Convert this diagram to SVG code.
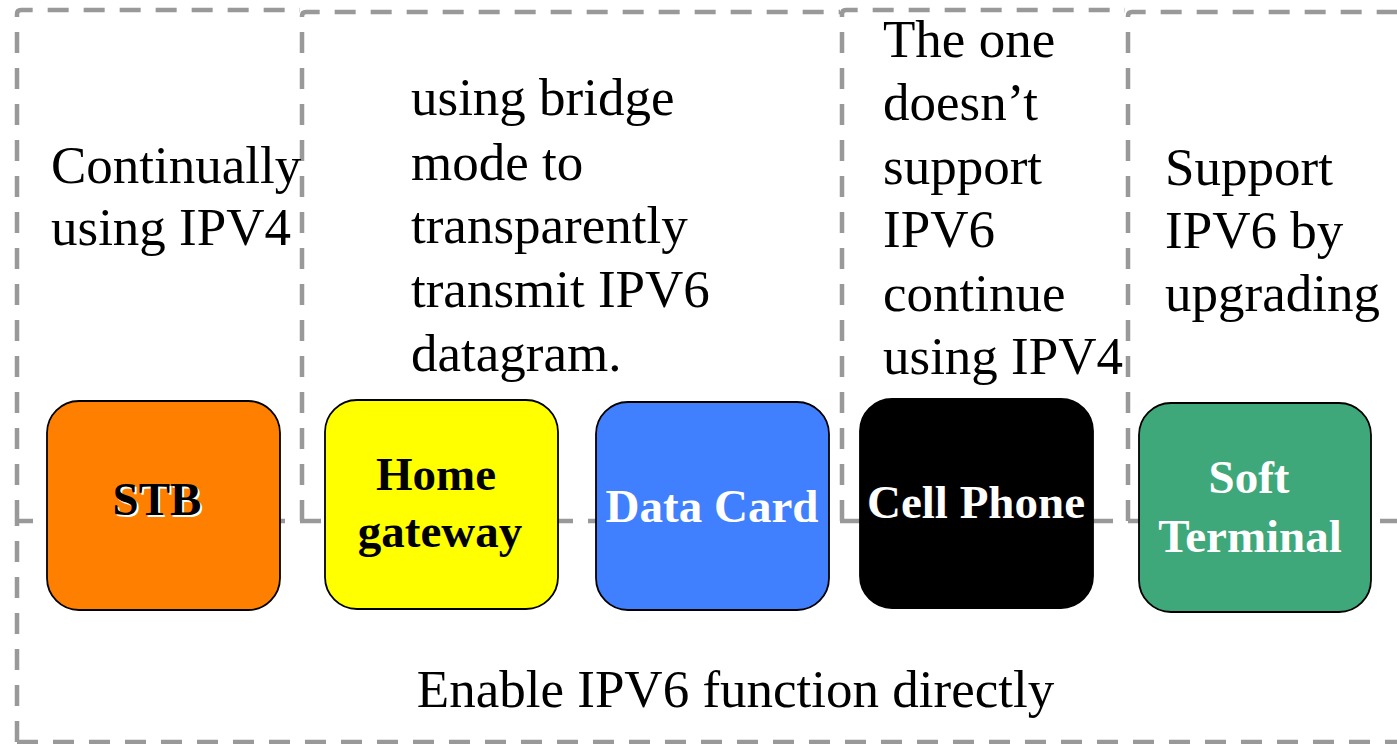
<svg xmlns="http://www.w3.org/2000/svg" width="1397" height="744" viewBox="0 0 1397 744">
<style>
.reg{fill:none;stroke:#999999;stroke-width:4.5;stroke-dasharray:21 15;stroke-linejoin:round}
.note{font-family:"Liberation Serif","Times New Roman",serif;font-size:53px;fill:#000}
.box{stroke:#000;stroke-width:1.8}
.lbl{font-family:"Liberation Serif","Times New Roman",serif;font-size:47px;font-weight:bold;text-anchor:middle}
</style>
<rect width="1397" height="744" fill="#ffffff"/>
<g id="regions">
<path class="reg" d="M17,742 V521 H1420"/>
<path class="reg" d="M17,742 H1420"/>
<path class="reg" d="M17,521 V14 Q17,10 21,10 H300"/>
<path class="reg" d="M302,521 V16 Q302,12 306,12 H840"/>
<path class="reg" d="M842,521 V14 Q842,10 846,10 H1125"/>
<path class="reg" d="M1128,521 V16 Q1128,12 1132,12 H1400"/>
</g>
<g id="connectors"></g>
<g id="notes" class="note">
<text x="51" y="183">Continually</text>
<text x="51" y="245">using IPV4</text>
<text x="411" y="115">using bridge</text>
<text x="411" y="180">mode to</text>
<text x="411" y="243">transparently</text>
<text x="411" y="307">transmit IPV6</text>
<text x="411" y="371">datagram.</text>
<text x="883" y="57">The one</text>
<text x="883" y="120">doesn’t</text>
<text x="883" y="184">support</text>
<text x="883" y="247">IPV6</text>
<text x="883" y="311">continue</text>
<text x="883" y="374">using IPV4</text>
<text x="1165" y="185">Support</text>
<text x="1165" y="248">IPV6 by</text>
<text x="1165" y="311">upgrading</text>
<text x="735.5" y="707" text-anchor="middle">Enable IPV6 function directly</text>
</g>
<g id="stb">
<rect class="box" x="47" y="401" width="233" height="209" rx="32" fill="#FF8000"/>
<text class="lbl" x="159" y="517" fill="#ffffff">STB</text>
<text class="lbl" x="157" y="515" fill="#000000">STB</text>
</g>
<g id="home-gateway">
<rect class="box" x="325" y="400" width="233" height="209" rx="32" fill="#FFFF00"/>
<text class="lbl" x="436" y="490" fill="#000000">Home</text>
<text class="lbl" x="440" y="547" fill="#000000">gateway</text>
</g>
<g id="data-card">
<rect class="box" x="596" y="402" width="233" height="208" rx="32" fill="#4080FF"/>
<text class="lbl" x="712" y="522" fill="#ffffff">Data Card</text>
</g>
<g id="cell-phone">
<rect class="box" x="860" y="399" width="233" height="209" rx="32" fill="#000000"/>
<text class="lbl" x="976" y="518" fill="#ffffff">Cell Phone</text>
</g>
<g id="soft-terminal">
<rect class="box" x="1139" y="403" width="232" height="209" rx="32" fill="#3FA87A"/>
<text class="lbl" x="1249" y="493" fill="#ffffff">Soft</text>
<text class="lbl" x="1250" y="552" fill="#ffffff">Terminal</text>
</g>
</svg>
